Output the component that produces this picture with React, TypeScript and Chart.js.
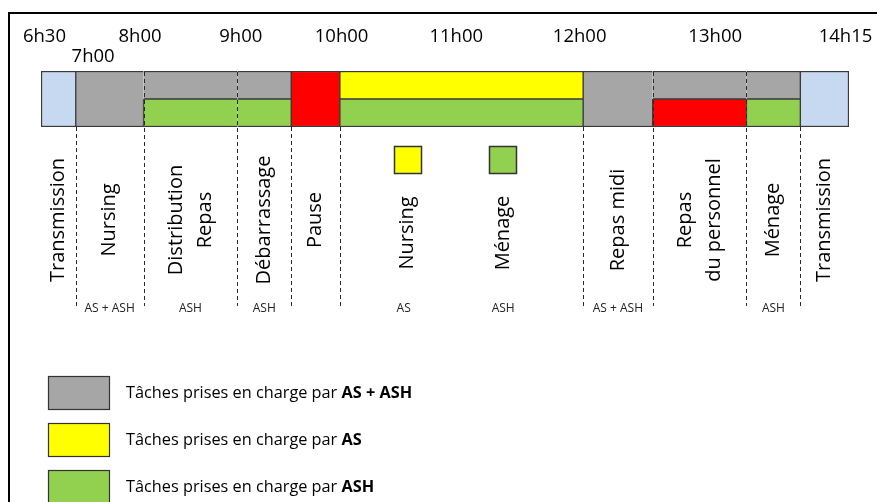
import React, { useEffect, useRef } from 'react';
import { Chart, registerables } from 'chart.js';

Chart.register(...registerables);

// ---- Data (time axis in minutes after 6h30, as drawn on the original schedule) ----
const rows = ['haut', 'bas'];
const taskNames = ['Transmission', 'Nursing', 'Distribution Repas', 'Débarrassage', 'Pause', 'Nursing / Ménage', 'Repas midi', 'Repas du personnel', 'Ménage', 'Transmission'];
const taskLines = [['Transmission'], ['Nursing'], ['Distribution', 'Repas'], ['Débarrassage'], ['Pause'], [], ['Repas midi'], ['Repas', 'du personnel'], ['Ménage'], ['Transmission']];
const taskStart = [0, 20, 59, 113, 144, 172, 312, 352, 406, 437];
const taskEnd = [20, 59, 113, 144, 172, 312, 352, 406, 437, 465];
const topGroup = ['T', 'AS + ASH', 'AS + ASH', 'AS + ASH', 'P', 'AS', 'AS + ASH', 'AS + ASH', 'AS + ASH', 'T'];
const bottomGroup = ['T', 'AS + ASH', 'ASH', 'ASH', 'P', 'ASH', 'AS + ASH', 'P', 'ASH', 'T'];
const staffLabels = ['', 'AS + ASH', 'ASH', 'ASH', '', '', 'AS + ASH', '', 'ASH', ''];
const splitItems = ['Nursing', 'Ménage'];
const splitAt = [211, 266];
const splitGroup = ['AS', 'ASH'];
const tickValues = [2, 30, 57, 115, 173, 239, 310, 388, 463];
const tickLabels = ['6h30', '7h00', '8h00', '9h00', '10h00', '11h00', '12h00', '13h00', '14h15'];
const legendGroups = ['AS + ASH', 'AS', 'ASH'];
const legendText = 'Tâches prises en charge par ';

// ---- Styles ----
const FONT = "'Open Sans', sans-serif";
const groupColor: Record<string, string> = {
  T: '#c6d9f1',
  'AS + ASH': '#a6a6a6',
  AS: '#ffff00',
  ASH: '#92d050',
  P: '#ff0000',
};
const EDGE = '#3a3a3a';
const rowGroups = [topGroup, bottomGroup];

function borderFor(i: number, r: number) {
  const g = rowGroups[r];
  const full = topGroup[i] === bottomGroup[i];
  const outer = 1.5;
  const n = taskNames.length;
  return {
    top: r === 0 ? outer : full ? 0 : 1,
    bottom: r === 1 ? outer : full ? 0 : 1,
    left: i === 0 ? outer : g[i - 1] === g[i] ? 0 : 1,
    right: i === n - 1 ? outer : g[i + 1] === g[i] ? 0 : 1,
  };
}

const overlayPlugin = {
  id: 'scheduleOverlay',
  afterDraw(chart: any) {
    const ctx = chart.ctx as CanvasRenderingContext2D;
    const x = chart.scales.x;
    const area = chart.chartArea;
    ctx.save();

    // frame
    ctx.fillStyle = '#000';
    ctx.fillRect(8, 12, 2, 490);
    ctx.fillRect(8, 12, 869, 2);

    // dashed separators
    ctx.strokeStyle = '#2a2a2a';
    ctx.lineWidth = 1;
    ctx.setLineDash([4, 3]);
    for (let i = 0; i < taskNames.length - 1; i++) {
      const px = Math.round(x.getPixelForValue(taskEnd[i])) + 0.5;
      const inside = topGroup[i] === topGroup[i + 1] || bottomGroup[i] === bottomGroup[i + 1];
      ctx.beginPath();
      ctx.moveTo(px, inside ? area.top + 1 : area.bottom);
      ctx.lineTo(px, 306);
      ctx.stroke();
    }
    ctx.setLineDash([]);

    // task labels (rotated)
    ctx.fillStyle = '#000';
    ctx.textAlign = 'center';
    ctx.textBaseline = 'middle';
    ctx.font = `20px ${FONT}`;
    taskLines.forEach((lines, i) => {
      if (!lines.length) return;
      const cx = x.getPixelForValue((taskStart[i] + taskEnd[i]) / 2);
      ctx.save();
      ctx.translate(cx, 220);
      ctx.rotate(-Math.PI / 2);
      lines.forEach((t, k) => ctx.fillText(t, 0, (k - (lines.length - 1) / 2) * 29));
      ctx.restore();
    });
    splitItems.forEach((t, k) => {
      const cx = x.getPixelForValue(splitAt[k]);
      ctx.save();
      ctx.translate(cx, 233);
      ctx.rotate(-Math.PI / 2);
      ctx.fillText(t, 0, 0);
      ctx.restore();
      // small colour square
      ctx.fillStyle = groupColor[splitGroup[k]];
      ctx.fillRect(Math.round(cx) - 14, 146, 28, 28);
      ctx.strokeStyle = '#333';
      ctx.lineWidth = 1.5;
      ctx.strokeRect(Math.round(cx) - 14 + 0.5, 146.5, 27, 27);
      ctx.fillStyle = '#000';
    });

    // staff labels
    ctx.font = `12px ${FONT}`;
    ctx.fillStyle = '#222';
    staffLabels.forEach((s, i) => {
      if (!s) return;
      ctx.fillText(s, x.getPixelForValue((taskStart[i] + taskEnd[i]) / 2), 309);
    });
    splitGroup.forEach((s, k) => {
      ctx.fillText(s, x.getPixelForValue(splitAt[k]) - (k === 0 ? 4 : 0), 309);
    });

    // legend
    const boxTops = [376, 423, 470];
    legendGroups.forEach((g, k) => {
      const top = boxTops[k];
      ctx.fillStyle = groupColor[g];
      ctx.fillRect(48, top, 62, 34);
      ctx.strokeStyle = '#333';
      ctx.lineWidth = 1.2;
      ctx.strokeRect(48.5, top + 0.5, 61, 33);
      ctx.fillStyle = '#000';
      ctx.textAlign = 'left';
      ctx.font = `16.3px ${FONT}`;
      ctx.fillText(legendText, 126, top + 17.5);
      const w = ctx.measureText(legendText).width;
      ctx.font = `bold 16.3px ${FONT}`;
      ctx.fillText(g, 126 + w, top + 17.5);
    });

    ctx.restore();
  },
};

export default function App() {
  const canvasRef = useRef<HTMLCanvasElement | null>(null);

  useEffect(() => {
    const canvas = canvasRef.current;
    if (!canvas) return;
    const chart = new Chart(canvas, {
      type: 'bar',
      data: {
        labels: rows,
        datasets: taskNames.map((name, i) => ({
          label: name,
          data: [
            [taskStart[i], taskEnd[i]],
            [taskStart[i], taskEnd[i]],
          ],
          backgroundColor: [groupColor[topGroup[i]], groupColor[bottomGroup[i]]],
          borderColor: EDGE,
          borderWidth: (c: any) => borderFor(i, c.dataIndex),
          borderSkipped: false,
          grouped: false,
          barPercentage: 1,
          categoryPercentage: 1,
        })) as any,
      },
      options: {
        responsive: false,
        animation: false,
        devicePixelRatio: 1,
        indexAxis: 'y',
        layout: { padding: { left: 41, right: 28, top: 0, bottom: 375 } },
        plugins: {
          legend: { display: false },
          tooltip: { enabled: false },
        },
        scales: {
          x: {
            type: 'linear',
            position: 'top',
            min: 0,
            max: 465,
            grid: { display: false, drawTicks: false },
            border: { display: false },
            afterBuildTicks: (s: any) => {
              s.ticks = tickValues.map((v) => ({ value: v }));
            },
            afterFit: (s: any) => {
              s.height = 71;
            },
            ticks: {
              autoSkip: false,
              maxRotation: 0,
              padding: 4.5,
              color: '#000',
              font: { family: FONT, size: 18.5, lineHeight: '20px' },
              callback: (_v: any, i: number) => (i === 1 ? ['', tickLabels[i]] : [tickLabels[i], '']),
            },
          },
          y: {
            type: 'category',
            labels: rows,
            display: false,
          },
        },
      } as any,
      plugins: [overlayPlugin],
    });
    return () => chart.destroy();
  }, []);

  return (
    <div style={{ position: 'absolute', left: 0, top: 0, width: 877, height: 502, background: '#fff' }}>
      <canvas ref={canvasRef} width={877} height={502} style={{ display: 'block' }} />
    </div>
  );
}
